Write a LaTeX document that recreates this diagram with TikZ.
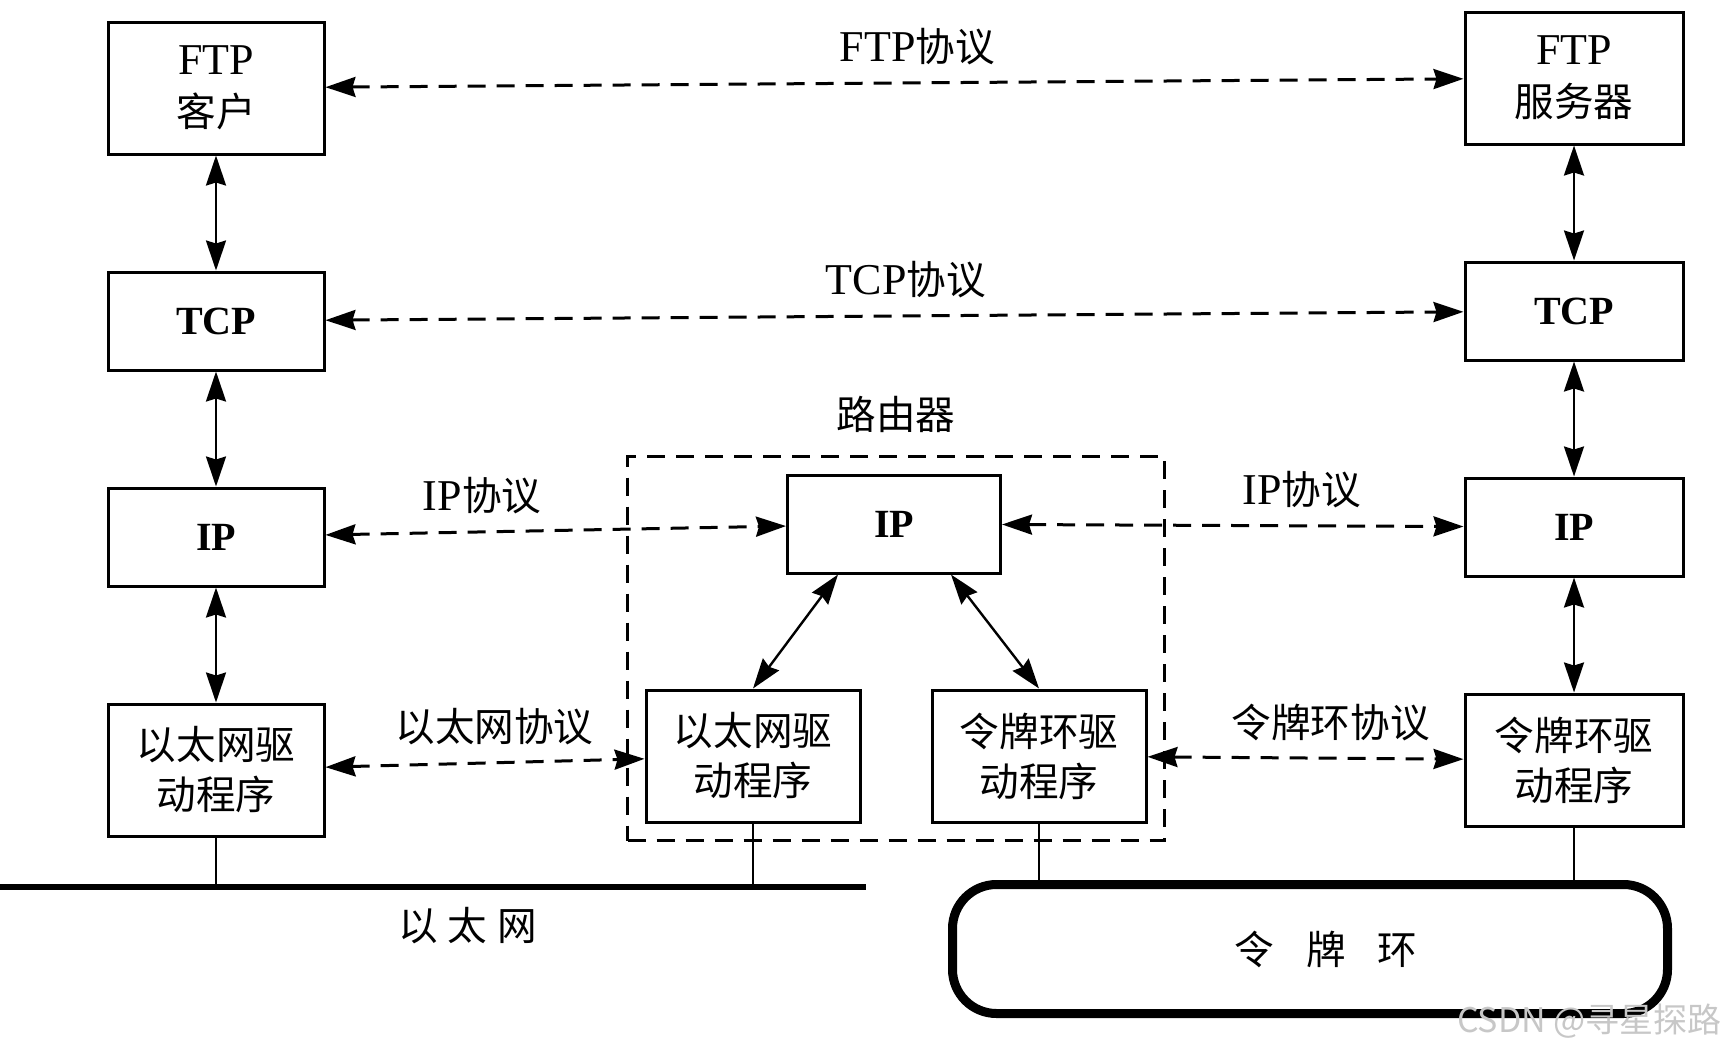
\documentclass[tikz,border=0pt]{standalone}
\usepackage{fontspec}
\setmainfont{Liberation Serif}
\newfontfamily\cjk[Scale=0.9]{Noto Sans CJK SC}
\newfontfamily\markfont{Noto Sans CJK SC}
\usetikzlibrary{positioning,fit,arrows.meta}

\begin{document}
\begin{tikzpicture}[x=1pt, y=1pt,
    node distance=115pt,
    >={Stealth[length=30pt,width=20pt,inset=3pt]},
    layer/.style={draw, line width=3pt, minimum width=216pt, minimum height=98pt,
      inner sep=0pt, align=center, font=\fontsize{44pt}{52pt}\selectfont},
    tall/.style={minimum height=132pt},
    cn/.style={font=\fontsize{44pt}{50pt}\selectfont\cjk},
    bold/.style={font=\fontsize{40pt}{48pt}\selectfont\bfseries},
    peer/.style={<->, line width=3pt, dash pattern=on 18pt off 11pt},
    stack/.style={<->, line width=2.4pt},
    proto/.style={above=16pt, inner sep=0pt, font=\fontsize{44pt}{50pt}\selectfont},
    stub/.style={line width=2.2pt}]
  \useasboundingbox (0,0) rectangle (1725,-1052);

  % client host
  \node[layer, tall] (ftpc) at (216,-88) {FTP\\{\cjk 客户}};
  \node[layer, bold, below=of ftpc] (tcpl) {TCP};
  \node[layer, bold, below=of tcpl] (ipl) {IP};
  \node[layer, tall, cn, below=of ipl] (ethl) {以太网驱\\动程序};

  % server host
  \node[layer, tall, minimum width=218pt] (ftps) at (1574,-78) {FTP\\{\cjk 服务器}};
  \node[layer, bold, minimum width=218pt, below=of ftps] (tcps) {TCP};
  \node[layer, bold, minimum width=218pt, below=of tcps] (ips) {IP};
  \node[layer, tall, cn, minimum width=218pt, below=of ips] (toks) {令牌环驱\\动程序};

  % router
  \node[layer, bold, minimum width=213pt] (ipr) at (894,-524) {IP};
  \node[layer, tall, cn, minimum width=214pt] (ethr) at (753,-756) {以太网驱\\动程序};
  \node[layer, tall, cn, minimum width=214pt] (tokr) at (1039,-756) {令牌环驱\\动程序};
  \node[draw, line width=3pt, dash pattern=on 18pt off 11pt, inner sep=17pt,
    fit=(ipr)(ethr)(tokr)] (router) {};
  \node[cn, inner sep=0pt, above=22pt of router.north] (routerlbl) {路由器};

  % layers
  \draw[stack] (ftpc) -- (tcpl);
  \draw[stack] (tcpl) -- (ipl);
  \draw[stack] (ipl) -- (ethl);
  \draw[stack] (ftps) -- (tcps);
  \draw[stack] (tcps) -- (ips);
  \draw[stack] (ips) -- (toks);
  \draw[stack] ([xshift=-56pt]ipr.south) -- (ethr.north);
  \draw[stack] ([xshift=57pt]ipr.south) -- (tokr.north);

  % peers
  \draw[peer] (ftpc) -- node[proto, pos=0.52] (ftplbl) {FTP{\cjk 协议}} (ftps);
  \draw[peer] (tcpl) -- node[proto, pos=0.51] (tcplbl) {TCP{\cjk 协议}} (tcps);
  \draw[peer] (ipl) -- node[proto, pos=0.34] (iplbl) {IP{\cjk 协议}} (ipr);
  \draw[peer] (ipr) -- node[proto, pos=0.65] (iprlbl) {IP{\cjk 协议}} (ips);
  \draw[peer] (ethl) -- node[proto, pos=0.53] (ethlbl) {\cjk 以太网协议} (ethr);
  \draw[peer] (tokr) -- node[proto, pos=0.58] (toklbl) {\cjk 令牌环协议} (toks);

  % networks
  \coordinate (etha) at (0,-887);
  \coordinate (ethb) at (866,-887);
  \draw[line width=6pt] (etha) -- node[cn, pos=0.54, below=17pt, inner sep=0pt] (ethname)
    {以\hspace{10pt}太\hspace{10pt}网} (ethb);
  \node[draw, line width=9pt, rounded corners=44pt, minimum width=715pt,
    minimum height=129pt, cn] (ring) at (1310,-949)
    {\hspace*{32pt}令\hspace{32pt}牌\hspace{32pt}环};
  \draw[stub] (ethl) -- (ethl |- etha);
  \draw[stub] (ethr) -- (ethr |- etha);
  \draw[stub] (tokr) -- (tokr |- ring.north);
  \draw[stub] (toks) -- (toks |- ring.north);

  \node[anchor=east, inner sep=0pt, text=black!22,
    font=\fontsize{34pt}{34pt}\selectfont\markfont] (mark) at (1722,-1021) {CSDN @寻星探路};
\end{tikzpicture}
\end{document}
